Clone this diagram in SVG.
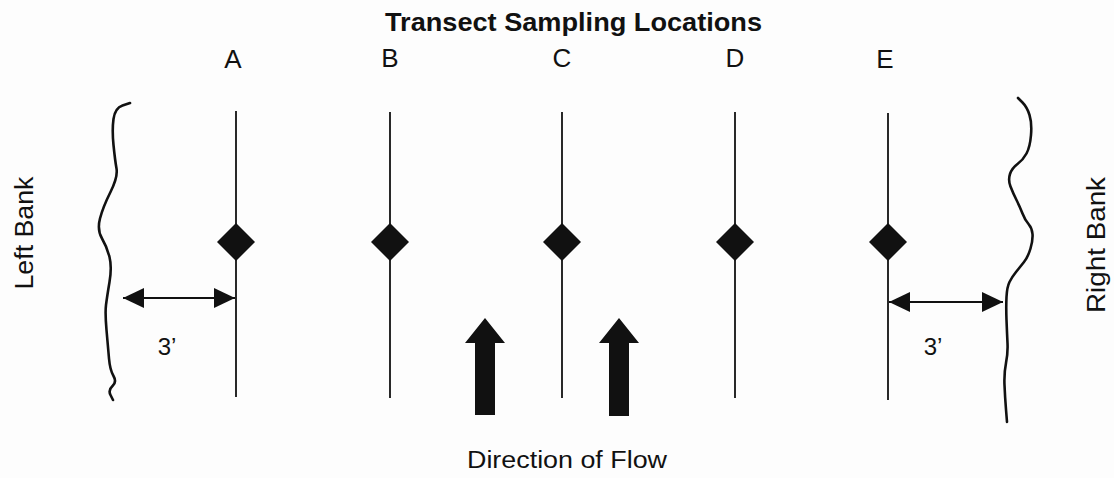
<svg xmlns="http://www.w3.org/2000/svg" width="1114" height="478" viewBox="0 0 1114 478">
<style>
text{font-family:"Liberation Sans",Arial,sans-serif;fill:#111}
.t{font-size:25px;font-weight:bold}
.lbl{font-size:26px;text-anchor:middle}
.side{font-size:26px;text-anchor:middle}
.dim{font-size:24px;text-anchor:middle}
.transect{stroke:#111;stroke-width:1.8;fill:none}
.bank{stroke:#111;stroke-width:2.6;fill:none;stroke-linecap:round;stroke-linejoin:round}
.dimline{stroke:#111;stroke-width:2;fill:none}
.flow{fill:#111}
.pt{fill:#111}
</style>
<defs>
<marker id="ah" markerUnits="userSpaceOnUse" markerWidth="22" markerHeight="20" refX="21" refY="10" orient="auto-start-reverse">
<path d="M0,0 L21,10 L0,20 z" fill="#111"/>
</marker>
</defs>
<rect width="1114" height="478" fill="#fdfdfd"/>
<text class="t" x="385" y="31" textLength="377" lengthAdjust="spacingAndGlyphs">Transect Sampling Locations</text>

<g id="bank-left">
<path class="bank" d="M130,103 L122.5,105.5 Q115,108 113.5,119 Q112,130 113.5,145 Q115,160 116.5,168.5 Q118,177 110.5,192 Q103,207 100,218.5 Q97,230 102,238.5 Q107,247 109.5,257 Q112,267 109.5,282 Q107,297 106,305 Q105,313 106.5,330 Q108,347 109,358.5 Q110,370 113.5,376 Q117,382 112.5,386 Q108,390 110.5,395 L113,400"/>
<text class="side" transform="translate(33,233) rotate(-90)" textLength="113" lengthAdjust="spacingAndGlyphs">Left Bank</text>
</g>
<g id="bank-right">
<path class="bank" d="M1018,98 L1022.5,102.5 Q1027,107 1029.5,115 Q1032,123 1031,135 Q1030,147 1026.5,153.5 Q1023,160 1017.5,164 Q1012,168 1010,174 Q1008,180 1010.5,186.5 Q1013,193 1016.5,200 Q1020,207 1022.5,213.5 Q1025,220 1028.5,224 Q1032,228 1032.5,234 Q1033,240 1030.5,248.5 Q1028,257 1024,262 Q1020,267 1016,272 Q1012,277 1009.5,282 Q1007,287 1006.5,297 Q1006,307 1006.5,320 Q1007,333 1007.5,343 Q1008,353 1006,363 Q1004,373 1004.5,385 Q1005,397 1006,409.5 L1007,422"/>
<text class="side" transform="translate(1105,245) rotate(-90)" textLength="136" lengthAdjust="spacingAndGlyphs">Right Bank</text>
</g>

<g id="transect-A">
<text class="lbl" x="233" y="68">A</text>
<line class="transect" x1="236" y1="111" x2="236" y2="397"/>
<path class="pt" d="M236,223 L255,242 L236,261 L217,242 z"/>
</g>
<g id="transect-B">
<text class="lbl" x="390" y="67">B</text>
<line class="transect" x1="390" y1="112" x2="390" y2="398"/>
<path class="pt" d="M390,223 L409,242 L390,261 L371,242 z"/>
</g>
<g id="transect-C">
<text class="lbl" x="562" y="67">C</text>
<line class="transect" x1="562" y1="112" x2="562" y2="398"/>
<path class="pt" d="M562,223 L581,242 L562,261 L543,242 z"/>
</g>
<g id="transect-D">
<text class="lbl" x="735" y="67">D</text>
<line class="transect" x1="735" y1="112" x2="735" y2="398"/>
<path class="pt" d="M735,223 L754,242 L735,261 L716,242 z"/>
</g>
<g id="transect-E">
<text class="lbl" x="885" y="68">E</text>
<line class="transect" x1="888" y1="113" x2="888" y2="400"/>
<path class="pt" d="M888,223 L907,242 L888,261 L869,242 z"/>
</g>

<g id="connectors">
<line class="dimline" x1="123" y1="298" x2="235" y2="298" marker-start="url(#ah)" marker-end="url(#ah)"/>
<line class="dimline" x1="889" y1="302" x2="1003" y2="302" marker-start="url(#ah)" marker-end="url(#ah)"/>
</g>
<text class="dim" x="167" y="355">3’</text>
<text class="dim" x="933" y="355">3’</text>

<g id="flow">
<polygon class="flow" points="485,318 505,343 495,343 495,415 475,415 475,343 465,343"/>
<polygon class="flow" points="619,318 639,343 629,343 629,416 609,416 609,343 599,343"/>
<text x="467" y="468" style="font-size:23px" textLength="200" lengthAdjust="spacingAndGlyphs">Direction of Flow</text>
</g>
</svg>
